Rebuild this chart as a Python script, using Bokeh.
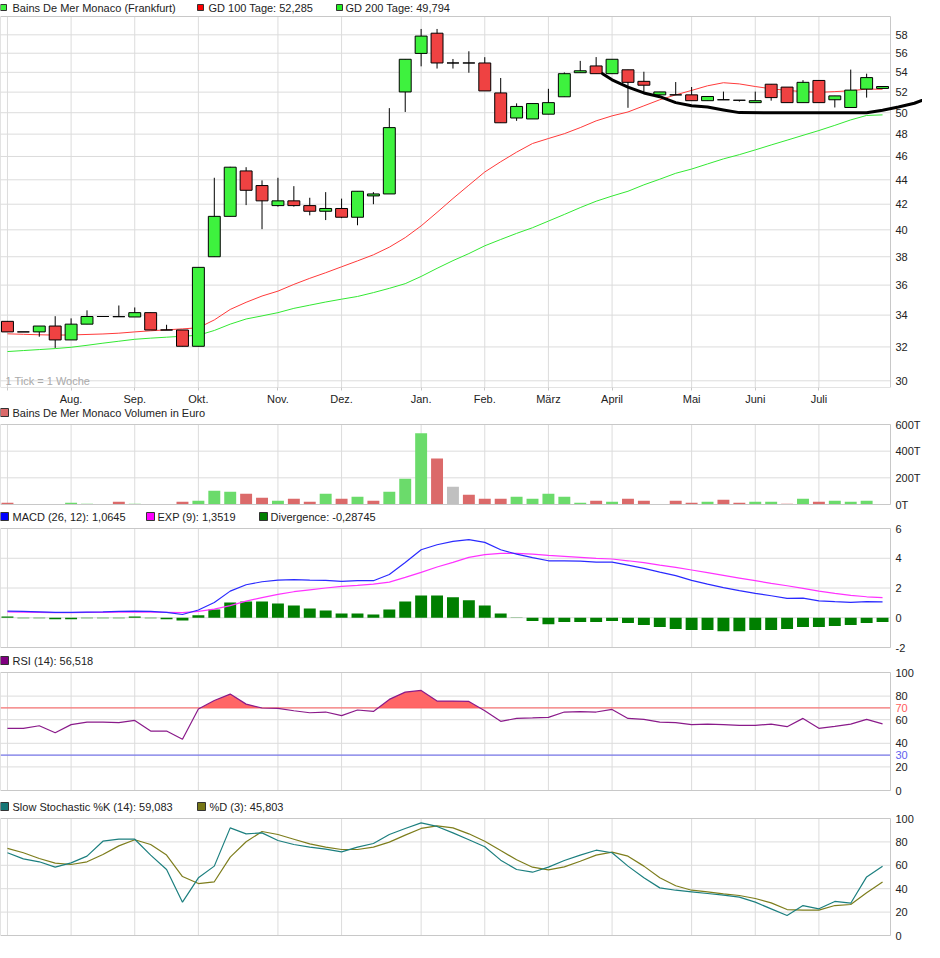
import math
from bokeh.plotting import figure
from bokeh.layouts import column
from bokeh.models import Range1d, FixedTicker, Label
from bokeh.embed import file_html
from bokeh.resources import INLINE
from bokeh.core.properties import value

FONT = "Liberation Sans"

# ---------------- data ----------------
week_idx = list(range(56))
month_ticks = [0, 4, 8, 12, 17, 21, 26, 30, 34, 38, 43, 47, 51]
month_labels = ["", "Aug.", "Sep.", "Okt.", "Nov.", "Dez.", "Jan.", "Feb.", "März", "April",
                "Mai", "Juni", "Juli"]
price_ticks = [30, 32, 34, 36, 38, 40, 42, 44, 46, 48, 50, 52, 54, 56, 58]

opens = [33.6, 32.93, 32.93, 33.3, 32.43, 33.42, 33.91, 33.9, 33.88, 34.16,
         33.05, 33.05, 32.04, 38.0, 41.04, 44.75, 43.52, 41.89, 42.27, 41.89,
         41.44, 41.66, 40.97, 42.67, 42.83, 52.02, 55.98, 58.18, 54.97, 54.97,
         54.97, 51.92, 49.5, 49.41, 49.86, 51.54, 53.96, 54.66, 53.86, 54.26,
         53.08, 51.73, 51.73, 51.73, 51.16, 51.25, 51.2, 50.97, 52.79, 52.5,
         50.97, 53.17, 51.25, 50.5, 52.3, 52.37]
highs = [33.6, 32.93, 33.3, 33.93, 33.79, 34.31, 33.91, 34.63, 34.5, 34.16,
         33.38, 33.05, 37.24, 44.17, 45.1, 45.07, 43.95, 44.17, 43.47, 42.52,
         42.98, 42.45, 43.05, 42.98, 50.44, 55.36, 58.65, 58.65, 55.39, 56.21,
         55.58, 53.42, 50.9, 50.88, 52.33, 53.99, 55.19, 55.59, 55.36, 54.26,
         54.06, 52.02, 53.01, 52.51, 51.57, 52.05, 51.2, 52.05, 52.79, 52.5,
         53.2, 53.17, 51.63, 54.28, 53.86, 52.56]
lows = [32.93, 32.93, 32.63, 31.94, 32.43, 33.42, 33.91, 33.88, 33.88, 33.05,
        33.05, 32.04, 32.04, 38.0, 41.04, 41.93, 40.05, 41.81, 41.81, 41.12,
        40.75, 40.9, 40.35, 42.0, 42.83, 50.07, 54.62, 54.39, 54.39, 53.96,
        52.12, 49.05, 49.23, 49.41, 49.86, 51.54, 53.96, 53.86, 53.86, 50.47,
        51.88, 51.73, 51.73, 51.16, 51.16, 51.25, 51.07, 50.97, 51.16, 50.97,
        50.97, 50.97, 50.5, 50.5, 51.46, 52.37]
closes = [32.93, 32.93, 33.3, 32.43, 33.42, 33.91, 33.91, 33.9, 34.16, 33.05,
          33.05, 32.04, 37.24, 41.04, 45.07, 43.13, 42.27, 42.27, 41.89, 41.44,
          41.66, 40.97, 43.05, 42.83, 48.6, 55.36, 57.86, 54.97, 54.97, 54.97,
          52.12, 49.05, 50.6, 50.88, 50.97, 53.86, 54.16, 53.86, 55.36, 52.98,
          52.69, 52.02, 51.73, 51.16, 51.57, 51.25, 51.2, 51.16, 51.46, 50.97,
          52.98, 50.97, 51.63, 52.2, 53.46, 52.56]

gd100 = [32.81, 32.78, 32.75, 32.73, 32.74, 32.77, 32.8, 32.85, 32.93, 33.0,
         33.06, 33.12, 33.19, 33.69, 34.37, 34.84, 35.26, 35.59, 36.05, 36.47,
         36.86, 37.28, 37.7, 38.14, 38.7, 39.41, 40.3, 41.35, 42.46, 43.55,
         44.66, 45.54, 46.38, 47.15, 47.6, 48.04, 48.6, 49.23, 49.7, 50.07,
         50.66, 51.25, 51.73, 52.17, 52.63, 52.94, 52.82, 52.56, 52.33, 52.17,
         52.05, 51.98, 52.05, 52.14, 52.3, 52.285]
gd200 = [31.72, 31.78, 31.84, 31.9, 31.98, 32.1, 32.23, 32.35, 32.47, 32.54,
         32.6, 32.66, 32.72, 33.02, 33.42, 33.75, 33.95, 34.16, 34.44, 34.65,
         34.86, 35.05, 35.23, 35.49, 35.78, 36.1, 36.6, 37.17, 37.72, 38.23,
         38.8, 39.27, 39.73, 40.16, 40.67, 41.19, 41.73, 42.24, 42.66, 43.05,
         43.58, 44.05, 44.55, 44.91, 45.35, 45.79, 46.16, 46.58, 47.02, 47.45,
         47.89, 48.33, 48.81, 49.32, 49.74, 49.794]

# hand-drawn trend curve (week index, price); it runs on past the last week
trend_x = [37.4, 38, 39, 40, 41, 42, 43, 44, 45, 46, 54, 55, 56, 57, 58.1]
trend_y = [53.86, 53.23, 52.5, 51.92, 51.55, 50.97, 50.66, 50.54, 50.26, 50.01,
           50.0, 50.23, 50.54, 50.91, 51.55]

volume_t = [12.6, 0, 0, 0, 12.6, 5, 0, 20, 5, 0,
            0, 20, 27.7, 103, 95.7, 80.6, 50.4, 27.7, 42.8, 20,
            80.6, 42.8, 57.9, 27.7, 95.7, 194, 534, 345, 133.5, 73,
            42.8, 42.8, 57.9, 42.8, 80.6, 57.9, 12.6, 27.7, 20, 42.8,
            27.7, 0, 27.7, 12.6, 20, 35, 12.6, 20, 20, 5,
            42.8, 20, 27.7, 20, 27.7, 0]
volume_dir = ["d", "n", "n", "n", "u", "u", "n", "d", "u", "n",
              "n", "d", "u", "u", "u", "d", "d", "u", "d", "d",
              "u", "d", "u", "d", "u", "u", "u", "d", "n", "d",
              "d", "d", "u", "u", "u", "u", "u", "d", "u", "d",
              "d", "n", "d", "d", "u", "d", "d", "u", "u", "d",
              "u", "d", "u", "u", "u", "n"]
volume_ticks = [0, 200, 400, 600]
volume_tick_labels = ["0T", "200T", "400T", "600T"]

macd = [0.45, 0.43, 0.4, 0.36, 0.36, 0.38, 0.4, 0.43, 0.45, 0.43,
        0.36, 0.22, 0.52, 1.03, 1.79, 2.22, 2.42, 2.53, 2.56, 2.53,
        2.51, 2.44, 2.49, 2.49, 2.91, 3.72, 4.57, 4.91, 5.13, 5.25,
        5.07, 4.57, 4.28, 4.04, 3.83, 3.83, 3.81, 3.74, 3.74, 3.54,
        3.32, 3.07, 2.83, 2.51, 2.26, 2.02, 1.82, 1.64, 1.48, 1.3,
        1.32, 1.14, 1.08, 1.03, 1.08, 1.0645]
macd_exp = [0.4, 0.38, 0.36, 0.34, 0.35, 0.36, 0.36, 0.37, 0.38, 0.37,
            0.36, 0.34, 0.43, 0.58, 0.81, 1.12, 1.35, 1.57, 1.75, 1.88,
            2.0, 2.11, 2.17, 2.26, 2.4, 2.71, 3.05, 3.41, 3.72, 4.06,
            4.24, 4.33, 4.33, 4.28, 4.19, 4.13, 4.06, 3.99, 3.95, 3.83,
            3.7, 3.54, 3.39, 3.21, 3.03, 2.85, 2.67, 2.49, 2.31, 2.15,
            1.97, 1.79, 1.64, 1.5, 1.41, 1.3519]
macd_div = [0.09, -0.04, -0.04, -0.1, -0.1, -0.04, -0.04, -0.04, 0.09, -0.04,
            -0.1, -0.18, 0.16, 0.56, 1.03, 1.1, 1.1, 0.96, 0.83, 0.63,
            0.49, 0.29, 0.29, 0.22, 0.56, 1.1, 1.5, 1.5, 1.37, 1.17,
            0.83, 0.29, 0.02, -0.22, -0.43, -0.29, -0.29, -0.29, -0.22, -0.36,
            -0.49, -0.63, -0.76, -0.83, -0.83, -0.9, -0.9, -0.83, -0.83, -0.76,
            -0.63, -0.63, -0.56, -0.49, -0.36, -0.28745]
macd_ticks = [-2, 0, 2, 4, 6]

rsi = [52.7, 52.7, 54.9, 49.0, 55.8, 58.0, 58.0, 57.5, 59.4, 50.4,
       50.4, 43.4, 69.0, 76.3, 81.7, 73.2, 69.9, 69.6, 67.6, 65.9,
       66.5, 63.4, 68.2, 67.0, 77.2, 83.4, 84.8, 75.8, 75.8, 75.5,
       67.5, 58.6, 61.1, 61.5, 62.0, 66.5, 66.8, 66.5, 68.7, 61.1,
       60.3, 58.0, 57.5, 55.8, 56.3, 55.8, 55.2, 55.2, 56.3, 54.1,
       61.1, 52.7, 54.4, 56.3, 60.3, 56.518]
rsi_upper = 70
rsi_lower = 30
pct_ticks = [0, 20, 40, 60, 80, 100]
rsi_tick_vals = [0, 20, 30, 40, 60, 70, 80, 100]
rsi_tick_kind = ["n", "n", "lo", "n", "n", "hi", "n", "n"]

stoch_k = [70.7, 65.5, 63.0, 58.4, 62.1, 67.8, 80.6, 82.3, 82.3, 68.7,
           56.4, 28.5, 49.3, 59.3, 92.0, 86.9, 87.7, 81.2, 77.8, 75.5,
           73.8, 71.5, 75.5, 78.6, 86.3, 91.5, 96.3, 93.2, 87.7, 81.8,
           75.8, 64.4, 56.4, 54.1, 58.4, 64.1, 68.7, 72.9, 70.7, 59.3,
           49.3, 40.7, 38.7, 37.3, 35.9, 34.5, 32.8, 28.5, 22.8, 17.1,
           25.6, 22.8, 29.1, 27.6, 50.1, 59.083]
stoch_d = [74.4, 70.7, 65.8, 61.8, 60.7, 63.0, 69.2, 76.6, 81.8, 77.8,
           68.7, 50.4, 44.4, 45.9, 67.0, 80.1, 88.9, 86.3, 82.3, 78.3,
           75.5, 73.5, 73.5, 75.5, 79.8, 85.8, 91.5, 93.7, 92.0, 86.9,
           80.6, 72.6, 64.7, 58.4, 56.1, 58.7, 63.5, 68.7, 71.2, 67.8,
           59.3, 49.3, 42.5, 38.7, 37.3, 35.6, 34.2, 31.6, 27.9, 22.2,
           21.7, 21.7, 25.6, 26.5, 36.5, 45.803]

# legend texts per panel
legend_main = ["Bains De Mer Monaco (Frankfurt)", "GD 100 Tage: 52,285", "GD 200 Tage: 49,794"]
legend_vol = ["Bains De Mer Monaco Volumen in Euro"]
legend_macd = ["MACD (26, 12): 1,0645", "EXP (9): 1,3519", "Divergence: -0,28745"]
legend_rsi = ["RSI (14): 56,518"]
legend_stoch = ["Slow Stochastic %K (14): 59,083", "%D (3): 45,803"]

# ---------------- styling ----------------
FW = 890                      # width of the bordered chart area
RB = 32                       # room for the right-hand scale
W = FW + RB
X0, X1 = -0.4375, 55.5
PPI = FW / (X1 - X0)          # pixels per week
XW = X0 + W / PPI             # x value at the right edge of the canvas
LBL_DX = 5 / PPI              # gap between border and right-hand labels
GRID = "#dcdcdc"
OUTLINE = "#c8c8c8"
TXT = "#222222"
RSI_HI = "#ff5c5c"
RSI_LO = "#6060ee"


def panel(top, frame_h, bottom, lo, hi, ticks, labels, label_colors=None,
          y_type="linear", x_axis=None, axis_h=0):
    """Panel whose drawing area spans the whole canvas width; the bordered
    chart area is [X0, X1] x [lo, hi] and the scale labels sit to its right."""
    if y_type == "log":
        k = math.log(hi / lo) / frame_h
        yr = Range1d(lo * math.exp(-bottom * k), hi * math.exp(top * k))
    else:
        k = (hi - lo) / frame_h
        yr = Range1d(lo - bottom * k, hi + top * k)
    p = figure(width=W, height=top + frame_h + bottom + axis_h, x_range=Range1d(X0, XW),
               y_range=yr, y_axis_type=y_type, x_axis_location=x_axis,
               y_axis_location=None, output_backend="svg", toolbar_location=None,
               min_border=0, min_border_bottom=axis_h)
    p.outline_line_color = None
    p.xgrid.visible = False
    p.ygrid.visible = False
    # grid
    n = len(month_ticks)
    p.segment(x0=month_ticks, y0=[lo] * n, x1=month_ticks, y1=[hi] * n,
              line_color=GRID, line_width=1)
    inner = [t for t in ticks if lo < t < hi]
    p.segment(x0=[X0] * len(inner), y0=inner, x1=[X1] * len(inner), y1=inner,
              line_color=GRID, line_width=1)
    # scale labels
    if label_colors is None:
        label_colors = [TXT] * len(ticks)
    p.text(x=[X1 + LBL_DX] * len(ticks), y=ticks, text=labels, text_color=label_colors,
           text_baseline="middle", text_align="left", text_font=value(FONT),
           text_font_size="11px")
    return p


def draw_border(p, y_lo, y_hi):
    p.quad(left=[X0], right=[X1], bottom=[y_lo], top=[y_hi], fill_color=None,
           line_color=OUTLINE, line_width=1)


def legend_fig(height, cy, labels, colors, sq_x, txt_x, sq=8):
    lf = figure(width=W, height=height, x_range=Range1d(0, W), y_range=Range1d(0, height),
                x_axis_location=None, y_axis_location=None, output_backend="svg",
                toolbar_location=None, min_border=0)
    lf.outline_line_color = None
    lf.xgrid.visible = False
    lf.ygrid.visible = False
    lf.quad(left=sq_x, right=[x + sq for x in sq_x], bottom=[cy - sq / 2] * len(sq_x),
            top=[cy + sq / 2] * len(sq_x), fill_color=colors, line_color="#333333",
            line_width=1)
    lf.text(x=txt_x, y=[cy] * len(txt_x), text=labels, text_baseline="middle",
            text_align="left", text_font=value(FONT), text_font_size="11px",
            text_color=TXT)
    return lf


# ---------------- main price chart ----------------
L1 = legend_fig(14, 7, legend_main, ["#3ef23e", "#ff0000", "#22ee22"],
                [0, 197, 336], [12, 208, 345], sq=6)
P_LO, P_HI = 29.62, 60.06
p1 = panel(2, 371, 0, P_LO, P_HI, price_ticks, [str(t) for t in price_ticks],
           y_type="log", x_axis="below", axis_h=20)
xa = p1.xaxis[0]
xa.ticker = FixedTicker(ticks=month_ticks)
xa.major_label_overrides = {t: l for t, l in zip(month_ticks, month_labels)}
xa.axis_line_color = None
xa.major_tick_line_color = OUTLINE
xa.major_tick_out = 3
xa.major_tick_in = 0
xa.minor_tick_line_color = None
xa.major_label_standoff = 2
xa.major_label_text_font = FONT
xa.major_label_text_font_size = "11px"
xa.major_label_text_color = TXT

p1.line(week_idx, gd200, line_color="#33e833", line_width=1)
p1.line(week_idx, gd100, line_color="#ff3a3a", line_width=1)
body_top = [max(o, c) for o, c in zip(opens, closes)]
body_bot = [min(o, c) for o, c in zip(opens, closes)]
body_col = ["#3ef23e" if c > o else ("#ef4242" if c < o else "#000000")
            for o, c in zip(opens, closes)]
p1.segment(x0=week_idx, y0=lows, x1=week_idx, y1=highs, line_color="black", line_width=1)
p1.vbar(x=week_idx, top=body_top, bottom=body_bot, width=0.75, fill_color=body_col,
        line_color="black", line_width=1)
draw_border(p1, P_LO, P_HI)
p1.line(trend_x, trend_y, line_color="black", line_width=3, line_join="round",
        line_cap="round")
p1.add_layout(Label(x=X0, y=P_LO, x_offset=5, y_offset=1, text="1 Tick = 1 Woche",
                    text_baseline="bottom", text_color="#aaaaaa", text_font=FONT,
                    text_font_size="11px"))

# ---------------- volume ----------------
L2 = legend_fig(12, 7, legend_vol, ["#db6a6a"], [0], [12])
p2 = panel(5, 80, 7, 0, 600, volume_ticks, volume_tick_labels)
vcol_map = {"u": "#6bdb6b", "d": "#db6a6a", "n": "#c0c0c0"}
p2.vbar(x=week_idx, top=volume_t, bottom=0, width=0.75,
        fill_color=[vcol_map[d] for d in volume_dir], line_color=None)
draw_border(p2, 0, 600)

# ---------------- MACD ----------------
L3 = legend_fig(12, 7, legend_macd, ["#0000ff", "#ff00ff", "#007f00"],
                [0, 146, 259], [12, 157, 270])
p3 = panel(5, 119, 8, -2, 6, macd_ticks, [str(t) for t in macd_ticks])
p3.vbar(x=week_idx, top=macd_div, bottom=0, width=0.75, fill_color="#007f00",
        line_color=None)
p3.line(week_idx, macd_exp, line_color="#ff33ff", line_width=1.2)
p3.line(week_idx, macd, line_color="#2a2aff", line_width=1.2)
draw_border(p3, -2, 6)

# ---------------- RSI ----------------
L4 = legend_fig(12, 7, legend_rsi, ["#800080"], [0], [12])
kind_col = {"n": TXT, "hi": RSI_HI, "lo": RSI_LO}
p4 = panel(5, 118, 11, 0, 100, rsi_tick_vals, [str(v) for v in rsi_tick_vals],
           label_colors=[kind_col[k] for k in rsi_tick_kind])
# the 30 / 70 levels get their own coloured lines, not grey grid lines
fx, fy = [], []
for k in range(len(rsi)):
    if k > 0:
        a, b = rsi[k - 1], rsi[k]
        if (a - rsi_upper) * (b - rsi_upper) < 0:
            t = (rsi_upper - a) / (b - a)
            fx.append(k - 1 + t)
            fy.append(rsi_upper)
    fx.append(k)
    fy.append(max(rsi[k], rsi_upper))
p4.varea(x=fx, y1=[rsi_upper] * len(fx), y2=fy, fill_color="#ff6666")
p4.segment(x0=[X0, X0], y0=[rsi_upper, rsi_lower], x1=[X1, X1], y1=[rsi_upper, rsi_lower],
           line_color=[RSI_HI, RSI_LO], line_width=1)
p4.line(week_idx, rsi, line_color="#8a1a8a", line_width=1.2)
draw_border(p4, 0, 100)

# ---------------- Slow Stochastic ----------------
L5 = legend_fig(12, 7, legend_stoch, ["#167676", "#767616"], [0, 197], [12, 209])
p5 = panel(5, 117, 5, 0, 100, pct_ticks, [str(t) for t in pct_ticks])
p5.line(week_idx, stoch_d, line_color="#7d7d1c", line_width=1.2)
p5.line(week_idx, stoch_k, line_color="#1c7f7f", line_width=1.2)
draw_border(p5, 0, 100)

layout = column(L1, p1, L2, p2, L3, p3, L4, p4, L5, p5, spacing=0)
open("out.html", "w").write(file_html(layout, INLINE))
